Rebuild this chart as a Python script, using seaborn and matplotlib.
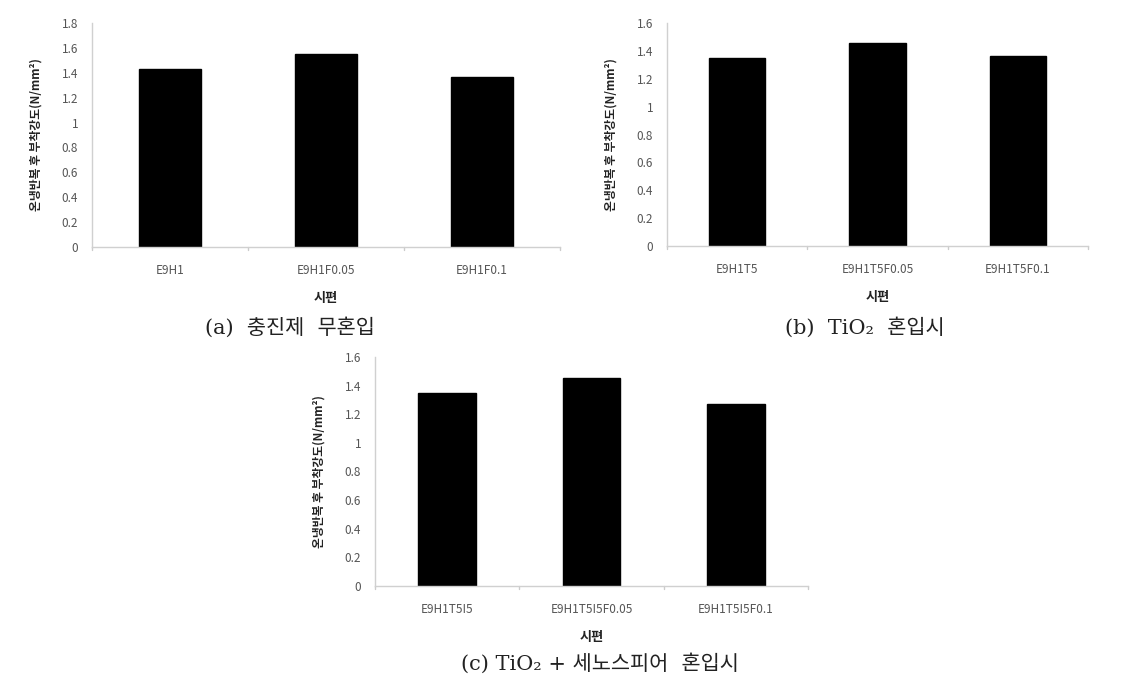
import matplotlib
matplotlib.use("Agg")
import matplotlib.pyplot as plt
import seaborn as sns
import pandas as pd

sns.set_theme(style="white")
plt.rcParams['font.family'] = ['Noto Sans CJK KR', 'DejaVu Sans']

# ---- data ----
cats_a = ["E9H1", "E9H1F0.05", "E9H1F0.1"]
vals_a = [1.43, 1.55, 1.37]
cats_b = ["E9H1T5", "E9H1T5F0.05", "E9H1T5F0.1"]
vals_b = [1.35, 1.46, 1.36]
cats_c = ["E9H1T5I5", "E9H1T5I5F0.05", "E9H1T5I5F0.1"]
vals_c = [1.35, 1.45, 1.27]

ylabel = "온냉반복 후 부착강도(N/mm²)"
xlabel = "시편"
captions = ["(a)  충진제  무혼입", "(b)  TiO₂  혼입시", "(c) TiO₂ + 세노스피어  혼입시"]

W, H = 1148, 685
fig = plt.figure(figsize=(W / 100, H / 100), dpi=100)


def px_axes(x0, x1, ytop, ybot):
    return fig.add_axes([x0 / W, 1 - ybot / H, (x1 - x0) / W, (ybot - ytop) / H])


def panel(ax, cats, vals, ymax, step):
    df = pd.DataFrame({"cat": cats, "val": vals})
    sns.barplot(data=df, x="cat", y="val", color="black", width=0.4,
                saturation=1, ax=ax, edgecolor="black")
    ax.set_xlim(-0.5, len(cats) - 0.5)
    ax.set_ylim(0, ymax)
    ticks = [round(i * step, 1) for i in range(int(round(ymax / step)) + 1)]
    ax.set_yticks(ticks)
    ax.set_yticklabels([("%g" % t) for t in ticks], fontsize=8.5, color="#555555")
    ax.tick_params(axis="y", length=3, color="#cccccc", pad=7)
    ax.tick_params(axis="x", length=0, pad=12, labelsize=8.5, labelcolor="#555555")
    # boundary ticks (Excel style)
    for b in [i - 0.5 for i in range(len(cats) + 1)]:
        ax.plot([b, b], [0, -0.015 * ymax], color="#cccccc", lw=1, clip_on=False)
    for s in ["top", "right"]:
        ax.spines[s].set_visible(False)
    for s in ["left", "bottom"]:
        ax.spines[s].set_color("#d0d0d0")
        ax.spines[s].set_linewidth(1)
    ax.set_xlabel(xlabel, fontsize=9.5, fontweight="bold", color="#222222", labelpad=10)
    ax.set_ylabel(ylabel, fontsize=8.5, fontweight="bold", color="#222222", labelpad=14)


ax_a = px_axes(92, 560, 23, 247)
panel(ax_a, cats_a, vals_a, 1.8, 0.2)
ax_b = px_axes(667, 1088, 23, 246)
panel(ax_b, cats_b, vals_b, 1.6, 0.2)
ax_c = px_axes(375, 808, 357, 586)
panel(ax_c, cats_c, vals_c, 1.6, 0.2)

cap_font = dict(fontsize=15, color="#222222", ha="center", va="center",
                family=['DejaVu Serif', 'Noto Sans CJK KR'])
fig.text(290 / W, 1 - 327 / H, captions[0], **cap_font)
fig.text(865 / W, 1 - 327 / H, captions[1], **cap_font)
fig.text(600 / W, 1 - 663 / H, captions[2], **cap_font)

fig.savefig("out.png", dpi=100, facecolor="white")
